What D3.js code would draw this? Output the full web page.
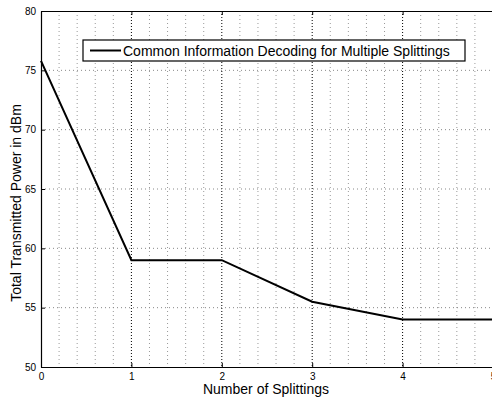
<!DOCTYPE html>
<html>
<head>
<meta charset="utf-8">
<script src="https://cdn.jsdelivr.net/npm/d3@7"></script>
<style>
  body { margin: 0; background: #fff; }
  text { font-family: "Liberation Sans", Arial, sans-serif; }
</style>
</head>
<body>
<svg id="chart" width="492" height="398"></svg>
<script>
// splittings vs power
var splittings = [0, 1, 2, 3, 4, 5];
var powerDbm = [75.8, 59, 59, 55.5, 54, 54];
var xTicks = [0, 1, 2, 3, 4, 5];
var yTicks = [50, 55, 60, 65, 70, 75, 80];
var legendLabel = "Common Information Decoding for Multiple Splittings";

var svg = d3.select("#chart"),
    margin = {top: 11, right: -1, bottom: 31, left: 41},
    width = 493 - margin.left,
    height = +svg.attr("height") - margin.top - margin.bottom,
    g = svg.append("g").attr("transform", "translate(" + margin.left + "," + margin.top + ")");

var x = d3.scaleLinear().domain([0, 5]).range([0, width]);
var y = d3.scaleLinear().domain([50, 80]).range([height, 0]);

// minor vertical grid every 0.2
var minor = d3.range(0, 5.001, 0.2).filter(function(v) { return Math.abs(v - Math.round(v)) > 0.01; });
g.append("g").selectAll("line")
  .data(minor)
  .enter().append("line")
    .attr("x1", function(d) { return x(d); })
    .attr("x2", function(d) { return x(d); })
    .attr("y1", 0).attr("y2", height)
    .attr("stroke", "#999").attr("stroke-width", 1)
    .attr("stroke-dasharray", "1,3");

// major grid
g.append("g").selectAll("line")
  .data(xTicks.slice(1))
  .enter().append("line")
    .attr("x1", function(d) { return x(d); })
    .attr("x2", function(d) { return x(d); })
    .attr("y1", 0).attr("y2", height)
    .attr("stroke", "#000").attr("stroke-width", 1)
    .attr("stroke-dasharray", "1,2");

g.append("g").selectAll("line")
  .data(yTicks.slice(1, -1))
  .enter().append("line")
    .attr("x1", 0).attr("x2", width)
    .attr("y1", function(d) { return y(d); })
    .attr("y2", function(d) { return y(d); })
    .attr("stroke", "#888").attr("stroke-width", 1)
    .attr("stroke-dasharray", "1,3");

// axes (ticks point inwards like MATLAB)
var xAxis = g.append("g")
    .attr("transform", "translate(0," + height + ")")
    .call(d3.axisBottom(x).tickValues(xTicks).tickFormat(d3.format("d"))
      .tickSizeInner(-4).tickSizeOuter(0).tickPadding(6));
var yAxis = g.append("g")
    .call(d3.axisLeft(y).tickValues(yTicks).tickFormat(d3.format("d"))
      .tickSizeInner(-4).tickSizeOuter(0).tickPadding(5));
g.append("g")
    .call(d3.axisTop(x).tickValues(xTicks).tickSizeInner(-4).tickSizeOuter(0))
    .selectAll("text").remove();

[xAxis, yAxis].forEach(function(a) {
  a.selectAll("text").attr("font-size", "10px").attr("fill", "#000")
    .style("font-family", "'Liberation Sans', Arial, sans-serif");
});
g.selectAll(".domain").attr("stroke", "#000").attr("stroke-width", 1.2);
g.selectAll(".tick line").attr("stroke", "#000");

// data line
var line = d3.line()
  .x(function(d, i) { return x(splittings[i]); })
  .y(function(d) { return y(d); });
g.append("path")
  .datum(powerDbm)
  .attr("d", line)
  .attr("fill", "none")
  .attr("stroke", "#000")
  .attr("stroke-width", 2);

// legend
var leg = svg.append("g").attr("transform", "translate(83,40)");
leg.append("rect")
  .attr("width", 382).attr("height", 21)
  .attr("fill", "#fff").attr("stroke", "#000").attr("stroke-width", 1.2);
leg.append("line")
  .attr("x1", 7).attr("x2", 38).attr("y1", 10.5).attr("y2", 10.5)
  .attr("stroke", "#000").attr("stroke-width", 2);
leg.append("text")
  .attr("x", 40).attr("y", 15.5)
  .attr("font-size", "14px")
  .text(legendLabel);

// axis titles
svg.append("text")
  .attr("x", 266).attr("y", 394)
  .attr("text-anchor", "middle").attr("font-size", "14px")
  .text("Number of Splittings");
svg.append("text")
  .attr("transform", "translate(21,203) rotate(-90)")
  .attr("text-anchor", "middle").attr("font-size", "14px")
  .text("Total Transmitted Power in dBm");
</script>
</body>
</html>
